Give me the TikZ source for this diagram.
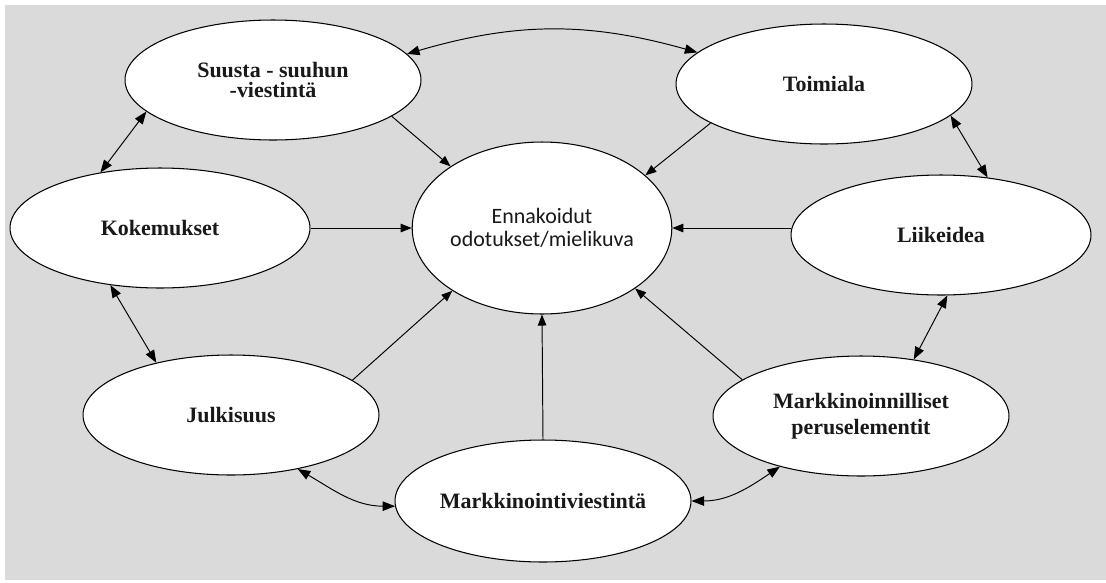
\documentclass[tikz,border=0pt]{standalone}
\usepackage{fontspec}
\setmainfont{Liberation Serif}
\newfontfamily\calfont{Carlito}
\usetikzlibrary{shapes.geometric,arrows.meta}
\definecolor{bg}{RGB}{218,218,218}
\definecolor{ink}{RGB}{25,25,25}
\begin{document}
\begin{tikzpicture}[x=0.02cm,y=-0.02cm,
  oval/.style={ellipse,draw=black,line width=0.6pt,fill=white,inner sep=0pt,align=center,
    text=ink,font=\fontsize{12.5}{14.5}\selectfont\bfseries,minimum width=5.92cm,minimum height=2.4cm},
  link/.style={line width=0.55pt,-{Triangle[length=0.22cm,width=0.17cm]}},
  both/.style={line width=0.55pt,{Triangle[length=0.25cm,width=0.19cm]}-{Triangle[length=0.25cm,width=0.19cm]}}]
\useasboundingbox (0,0) rectangle (1106,582);
\fill[white] (0,0) rectangle (1106,582);
\fill[bg] (5,5) rectangle (1106,580);

\node[oval,font=\fontsize{12.5}{11.4}\selectfont\bfseries] (suu) at (273,80) {Suusta - suuhun\\-viestintä};
\node[oval] (toi) at (824,84) {Toimiala};
\node[oval,minimum width=6cm] (kok) at (160,228) {Kokemukset};
\node[oval,minimum width=6cm] (lii) at (941,235) {Liikeidea};
\node[oval] (jul) at (231,415) {Julkisuus};
\node[oval,minimum height=2.44cm] (mv) at (543,501) {Markkinointiviestintä};
\node[oval] (mp) at (861,416) {Markkinoinnilliset\\peruselementit};
\node[ellipse,draw=black,line width=0.6pt,fill=white,inner sep=0pt,align=center,
  minimum width=4.72cm,minimum height=3.44cm,text=ink,
  font=\calfont\fontsize{12.5}{13.2}\selectfont] (cen) at (542,228) {Ennakoidut\\odotukset/mielikuva};

% double-headed connectors
\draw[both] (suu.11.6) to[bend left=16] (toi.166.2);
\draw[both] (suu.194) -- (kok.137.9);
\draw[both] (toi.-14.9) -- (lii.51.6);
\draw[both] (kok.229.3) -- (jul.145.6);
\draw[both] (lii.-84.3) -- (mp.47.1);
\draw[both] (jul.-39.6) to[out=-30,in=180] (mv.182);
\draw[both] (mv.0) to[out=0,in=214] (mp.-148);

% arrows into the centre
\draw[link] (suu.-17.5) -- (cen.146.3);
\draw[link] (toi.-161.1) -- (cen.27);
\draw[link] (kok.east) -- (cen.west);
\draw[link] (cen.east -| lii.west) -- (cen.east);
\draw[link] (jul.16.6) -- (cen.215.2);
\draw[link] (mv.north) -- (cen.south);
\draw[link] (mp.163) -- (cen.-33);
\end{tikzpicture}
\end{document}
